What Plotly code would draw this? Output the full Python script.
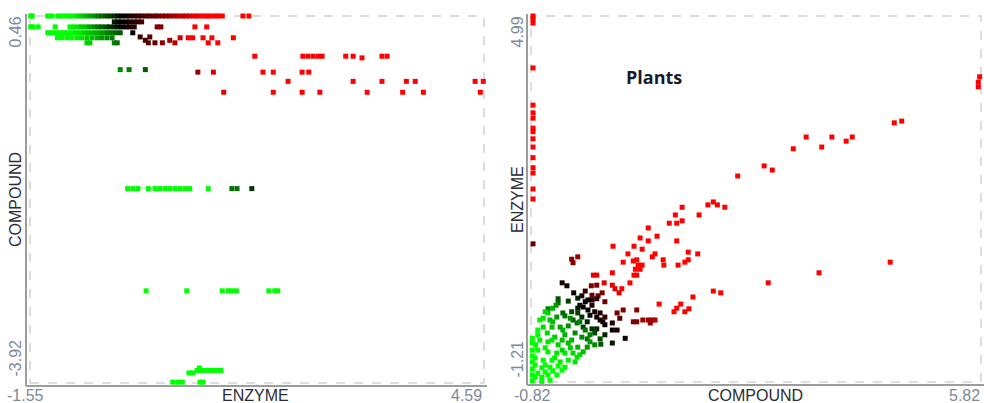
import plotly.graph_objects as go

# ---------------- LEFT PANEL DATA (x = ENZYME, y = COMPOUND) ----------------
row_a_compound = 0.46
row_a_enzyme = [-1.54, -1.52, -1.31, -1.25, -1.17, -1.12, -1.06, -1.01, -0.96, -0.90, -0.85, -0.79,
                -0.74, -0.68, -0.63, -0.58, -0.52, -0.47, -0.41, -0.36, -0.31, -0.25, -0.20, -0.14,
                -0.09, -0.04, 0.02, 0.07, 0.13, 0.18, 0.24, 0.29, 0.34, 0.40, 0.45, 0.51, 0.56, 0.61,
                0.67, 0.72, 0.78, 0.83, 0.88, 0.94, 0.99, 1.05, 1.33, 1.41]
row_a_score = [-1, -1, -1, -1, -1, -1, -1, -1, -0.96, -0.88, -0.8, -0.72, -0.64, -0.56, -0.48, -0.4,
               -0.32, -0.24, -0.16, -0.08, 0, 0.05, 0.1, 0.15, 0.2, 0.25, 0.3, 0.35, 0.4, 0.45, 0.5,
               0.55, 0.6, 0.65, 0.7, 0.75, 0.8, 0.85, 0.9, 0.95, 1, 1, 1, 1, 1, 1, 1, 1]

row_b_compound = 0.39
row_b_enzyme = [-0.41, -0.36, -0.31, -0.25, -0.20, -0.14, -0.09, -0.04]
row_b_score = [-0.1, -0.05, 0, 0.05, 0.1, 0.15, 0.2, 0.25]

row_c_compound = 0.33
row_c_enzyme = [-1.54, -1.51, -1.44, -1.21, -1.01, -0.96, -0.90, -0.85, -0.79, -0.74, -0.68, -0.63,
                -0.58, -0.52, -0.47, -0.41, -0.36, -0.31, -0.25, -0.20, -0.14, 0.17, 0.22, 0.68, 0.84]
row_c_score = [-1, -1, -1, -1, -1, -0.95, -0.9, -0.8, -0.75, -0.65, -0.55, -0.45, -0.38, -0.3, -0.2,
               -0.12, -0.05, 0, 0.05, 0.1, 0.15, 0.5, 0.5, 1, 1]

row_d_compound = 0.26
row_d_enzyme = [-1.31, -1.25, -1.20, -1.14, -1.09, -1.04, -0.98, -0.93, -0.87, -0.82, -0.77, -0.71,
                -0.66, -0.60, -0.55, -0.50, -0.44, -0.39, -0.33, -0.16]
row_d_score = [-1, -1, -1, -1, -1, -1, -1, -0.95, -0.9, -0.85, -0.8, -0.75, -0.7, -0.65, -0.6, -0.5,
               -0.45, -0.4, -0.35, 0.0]

row_e_compound = 0.20
row_e_enzyme = [-1.18, -1.12, -1.05, -0.98, -0.91, -0.85, -0.78, -0.71, -0.64, -0.58, -0.51, -0.44]
row_e_score = [-1, -1, -1, -1, -0.95, -0.9, -0.8, -0.75, -0.7, -0.6, -0.55, -0.5]

row_f_compound = 0.14
row_f_enzyme = [-0.78, -0.74, -0.41, -0.37]
row_f_score = [-0.85, -0.8, -0.5, -0.45]

top_cluster_enzyme = [-0.06, 0.01, 0.07, 0.05, 0.14, 0.24, 0.34, 0.41, 0.48, 0.59, 0.65, 0.79, 0.86,
                      0.91, 0.99, 1.20, -0.33, -0.21, 0.01, 0.72, 0.93, 1.07]
top_cluster_compound = [0.21, 0.17, 0.21, 0.14, 0.14, 0.14, 0.17, 0.14, 0.20, 0.20, 0.20, 0.20, 0.14,
                        0.20, 0.14, 0.20, -0.18, -0.18, -0.18, -0.21, -0.21, -0.45]
top_cluster_score = [0.25, 0.3, 0.35, 0.35, 0.4, 0.55, 0.65, 0.7, 0.8, 1, 1, 1, 1, 1, 1, 1,
                     -0.55, -0.5, -0.35, 0.6, 0.85, 0.9]

red_scatter_enzyme = [1.49, 2.14, 2.21, 2.28, 2.35, 2.40, 2.72, 2.82, 2.94, 3.21, 3.28,
                      1.60, 1.74, 2.13, 2.22,
                      1.94, 2.82, 3.21, 3.54, 3.66, 4.47, 4.58,
                      1.74, 2.13, 2.37, 3.01, 3.49, 3.77, 4.54]
red_scatter_compound = [-0.02, -0.02, -0.02, -0.02, -0.02, -0.02, -0.02, -0.02, -0.04, -0.02, -0.02,
                        -0.21, -0.21, -0.21, -0.21,
                        -0.32, -0.32, -0.32, -0.32, -0.32, -0.32, -0.32,
                        -0.45, -0.45, -0.45, -0.45, -0.45, -0.45, -0.45]

row_g_compound = -1.60
row_g_enzyme = [-0.23, -0.16, -0.09, 0.05, 0.14, 0.21, 0.28, 0.34, 0.41, 0.48, 0.55, 0.61, 0.86,
                1.18, 1.25, 1.45]
row_g_score = [-1, -1, -1, -1, -1, -1, -1, -1, -1, -1, -1, -1, -1, -0.45, -0.45, -0.2]

row_h_compound = -2.82
row_h_enzyme = [0.02, 0.57, 1.05, 1.13, 1.18, 1.24, 1.68, 1.76, 1.80]

bottom_enzyme = [0.71, 0.76, 0.82, 0.87, 0.93, 0.98, 1.03, 0.60, 0.65, 0.74, 0.38, 0.45, 0.51, 0.75, 0.79]
bottom_compound = [-3.77, -3.77, -3.77, -3.77, -3.77, -3.77, -3.77, -3.80, -3.80, -3.74,
                   -3.91, -3.91, -3.91, -3.91, -3.91]

# ---------------- RIGHT PANEL DATA (x = COMPOUND, y = ENZYME) ----------------
col_red_compound = [-0.79, -0.79, -0.79, -0.79, -0.79, -0.79, -0.79, -0.79, -0.79,
                    -0.79, -0.79, -0.79, -0.79, -0.79, -0.79, -0.79, -0.79]
col_red_enzyme = [4.99, 4.94, 4.87, 4.11, 3.48, 3.35, 3.26, 3.09, 3.03, 2.91, 2.77, 2.59, 2.42, 2.33,
                  2.06, 1.89, 1.13]
col_red_score = [1, 1, 1, 1, 1, 1, 1, 1, 1, 1, 1, 1, 1, 1, 1, 1, 0.4]

col_green_compound = [-0.80, -0.80, -0.80, -0.80, -0.80, -0.80, -0.80, -0.80]
col_green_enzyme = [-0.47, -0.55, -0.67, -0.77, -0.87, -0.99, -1.09, -1.19]

red_far_compound = [5.80, 5.78, 5.78, 4.65, 4.54, 3.92, 3.62, 3.83, 3.47, 3.24, 3.05, 2.62, 2.74, 2.23,
                    4.48, 3.43, 2.68, 1.41, 1.87, 1.79, 1.93, 2.04, 1.31, 1.66, 1.22, 1.33, 1.41, 0.91,
                    1.04, 1.33, 0.91, 0.79, 0.82, 1.50, 1.64, 1.01, 0.97, 1.13, 1.50, 1.45, 1.35, 1.14,
                    0.82, 0.79, 1.87, 1.98, 1.57, 1.07, 1.39, 1.33, 1.51, 1.29, 1.45]
red_far_enzyme = [3.96, 3.87, 3.79, 3.21, 3.18, 2.94, 2.94, 2.87, 2.77, 2.94, 2.74, 2.45, 2.38, 2.28,
                  0.82, 0.64, 0.47, 1.75, 1.84, 1.79, 1.79, 1.75, 1.62, 1.62, 1.48, 1.48, 1.52, 1.40,
                  1.26, 1.18, 1.18, 1.23, 1.04, 0.99, 0.96, 0.96, 0.91, 0.86, 0.86, 0.82, 0.77, 0.77,
                  0.77, 0.70, 0.33, 0.30, 0.23, 0.11, 0.11, 0.04, 0.03, -0.02, -0.02]

red_mid_compound = [0.39, 0.70, 0.61, 0.54, 0.74, 0.69, 0.76, 0.72, 0.70, 0.74, 0.38, 0.10, 0.15,
                    0.26, 0.64, 0.38, 0.42, 0.52, 0.48]
red_mid_enzyme = [1.09, 1.09, 0.96, 0.82, 0.86, 0.84, 0.77, 0.70, 0.60, 0.60, 0.64, 0.60, 0.60,
                  0.47, 0.47, 0.43, 0.37, 0.37, 0.30]
red_mid_score = [1, 1, 1, 1, 1, 1, 1, 1, 1, 1, 1, 0.9, 0.9, 0.9, 1, 0.9, 0.9, 1, 0.9]

dark_red_compound = [0.83, 0.91, 0.97, 1.01, 0.94, 0.69, 0.74, -0.22, -0.13, -0.20, 0.07, 0.23, 0.17,
                     0.08, 0.27, 0.45, 0.54, 0.49, 0.74, 0.15]
dark_red_enzyme = [-0.16, -0.16, -0.16, -0.16, -0.21, -0.19, -0.19, 0.87, 0.91, 0.81, 0.42, 0.30, 0.25,
                   0.26, 0.15, -0.04, 0.01, -0.13, 0.01, 0.43]
dark_red_score = [0.6, 0.6, 0.65, 0.7, 0.6, 0.5, 0.5, 0.55, 0.6, 0.5, 0.5, 0.5, 0.45, 0.4, 0.45, 0.45,
                  0.5, 0.35, 0.5, 0.5]

black_compound = [-0.36, -0.29, -0.19, -0.02, -0.07, 0.08, 0.15, -0.02, -0.05, 0.08, 0.02, 0.12, 0.20,
                  0.15, 0.27, 0.20, 0.24, 0.38, 0.27, 0.38, 0.45, 0.57, 0.38, 0.02, -0.10, 0.05, -0.13]
black_enzyme = [0.47, 0.42, 0.30, 0.33, 0.25, 0.18, 0.20, 0.15, 0.06, 0.09, 0.01, -0.02, -0.04, -0.11,
                -0.11, -0.16, -0.19, -0.21, -0.24, -0.33, -0.33, -0.47, -0.55, 0.18, 0.09, -0.08, 0.04]
black_score = [0.1, 0.05, 0.05, 0.2, 0.1, 0.15, 0.2, 0.05, 0.0, 0.1, 0.0, 0.1, 0.15, 0.05, 0.2, 0.05,
               0.1, 0.15, 0.0, 0.05, 0.1, 0.05, -0.1, 0.0, -0.05, -0.05, -0.1]

dark_green_compound = [-0.42, -0.27, -0.13, -0.42, -0.57, -0.35, -0.22, -0.13, -0.07, -0.20, -0.32, 0.01,
                       -0.05, 0.08, 0.15, 0.27, 0.12, 0.20, 0.01, 0.21]
dark_green_enzyme = [0.20, 0.16, 0.21, 0.13, 0.03, -0.04, -0.02, -0.04, -0.11, -0.16, -0.09, -0.19,
                     -0.28, -0.31, -0.31, -0.41, -0.38, -0.48, -0.48, -0.57]
dark_green_score = [-0.35, -0.25, -0.15, -0.4, -0.5, -0.4, -0.3, -0.25, -0.2, -0.35, -0.45, -0.15,
                    -0.25, -0.2, -0.15, -0.15, -0.3, -0.3, -0.45, -0.35]

green_compound = [-0.57, -0.54, -0.44, -0.64, -0.51, -0.39, -0.27, -0.14, -0.58, -0.47, -0.32, -0.17,
                  -0.07, 0.05, -0.69, -0.57, -0.42, -0.27, -0.13, 0.01, -0.10, -0.20, -0.32, -0.44,
                  -0.57, -0.72, -0.76, -0.64, -0.51, -0.39, -0.27, -0.14, -0.76, -0.66, -0.54, -0.42,
                  -0.72, -0.61, -0.50, -0.76, -0.66, -0.57, -0.64, -0.50, -0.72, -0.36, -0.24]
green_enzyme = [-0.04, -0.16, -0.11, -0.28, -0.28, -0.28, -0.26, -0.21, -0.38, -0.45, -0.41, -0.38,
                -0.45, -0.53, -0.50, -0.53, -0.58, -0.55, -0.62, -0.62, -0.75, -0.72, -0.72, -0.72,
                -0.70, -0.67, -0.80, -0.84, -0.84, -0.87, -0.84, -0.79, -0.92, -0.97, -0.96, -0.94,
                -1.06, -1.04, -1.02, -1.13, -1.13, -1.09, -0.13, 0.04, -0.33, -0.50, -0.63]
green_score = [-0.8, -0.75, -0.6, -0.85, -0.75, -0.65, -0.55, -0.45, -0.85, -0.8, -0.7, -0.55, -0.55,
               -0.6, -0.95, -0.9, -0.8, -0.75, -0.7, -0.6, -0.85, -0.85, -0.9, -0.9, -0.95, -1, -1,
               -1, -1, -0.95, -0.95, -0.9, -1, -1, -1, -1, -1, -1, -1, -1, -1, -1, -0.9, -0.7, -1,
               -0.75, -0.8]

green_extra_compound = [-0.69, -0.61, -0.45, -0.72, -0.51, -0.36, -0.22, -0.05, -0.17, -0.32, -0.44,
                        -0.54, -0.66, -0.35, -0.50, -0.24, -0.02, 0.05, -0.61, -0.47, -0.61, -0.36,
                        -0.75, -0.10, 0.12]
green_extra_enzyme = [-0.16, -0.02, 0.09, -0.41, -0.50, -0.67, -0.50, -0.70, -0.87, -0.96, -1.09,
                      -1.18, -1.20, -0.33, -0.19, -0.13, -0.33, -0.41, -0.63, -0.80, -0.92, -1.01,
                      -0.58, -0.19, -0.58]
green_extra_score = [-0.95, -0.85, -0.6, -1, -0.9, -0.85, -0.7, -0.75, -0.9, -0.95, -1, -1, -1, -0.7,
                     -0.75, -0.55, -0.45, -0.5, -0.95, -0.95, -1, -1, -1, -0.5, -0.55]

# ---------------- assemble ----------------
left_x, left_y, left_s = [], [], []
for comp, enz, sc in [(row_a_compound, row_a_enzyme, row_a_score),
                      (row_b_compound, row_b_enzyme, row_b_score),
                      (row_c_compound, row_c_enzyme, row_c_score),
                      (row_d_compound, row_d_enzyme, row_d_score),
                      (row_e_compound, row_e_enzyme, row_e_score),
                      (row_f_compound, row_f_enzyme, row_f_score),
                      (row_g_compound, row_g_enzyme, row_g_score)]:
    left_x += enz
    left_y += [comp] * len(enz)
    left_s += sc
left_x += top_cluster_enzyme; left_y += top_cluster_compound; left_s += top_cluster_score
left_x += red_scatter_enzyme; left_y += red_scatter_compound; left_s += [1] * len(red_scatter_enzyme)
left_x += row_h_enzyme; left_y += [row_h_compound] * len(row_h_enzyme); left_s += [-1] * len(row_h_enzyme)
left_x += bottom_enzyme; left_y += bottom_compound; left_s += [-1] * len(bottom_enzyme)

right_x, right_y, right_s = [], [], []
for cx, ey, sc in [(col_red_compound, col_red_enzyme, col_red_score),
                   (col_green_compound, col_green_enzyme, [-1] * len(col_green_enzyme)),
                   (red_far_compound, red_far_enzyme, [1] * len(red_far_enzyme)),
                   (red_mid_compound, red_mid_enzyme, red_mid_score),
                   (dark_red_compound, dark_red_enzyme, dark_red_score),
                   (black_compound, black_enzyme, black_score),
                   (dark_green_compound, dark_green_enzyme, dark_green_score),
                   (green_compound, green_enzyme, green_score),
                   (green_extra_compound, green_extra_enzyme, green_extra_score)]:
    right_x += cx
    right_y += ey
    right_s += sc

W, H = 984, 403
def px(x): return x / W
def py(y): return 1 - y / H

cscale = [[0, "#00ff00"], [0.5, "#000000"], [1, "#ff0000"]]
mk = dict(symbol="square", size=5, colorscale=cscale, cmin=-1, cmax=1, line=dict(width=0))

fig = go.Figure()
fig.add_trace(go.Scatter(x=left_x, y=left_y, mode="markers", xaxis="x", yaxis="y",
                         marker=dict(color=left_s, **mk), cliponaxis=False, showlegend=False,
                         hoverinfo="skip"))
fig.add_trace(go.Scatter(x=right_x, y=right_y, mode="markers", xaxis="x2", yaxis="y2",
                         marker=dict(color=right_s, **mk), cliponaxis=False, showlegend=False,
                         hoverinfo="skip"))

ax = dict(showgrid=False, zeroline=False, showticklabels=False, showline=False, ticks="", fixedrange=True)
fig.update_layout(
    width=W, height=H, margin=dict(l=0, r=0, t=0, b=0),
    paper_bgcolor="white", plot_bgcolor="white",
    xaxis=dict(domain=[px(30), px(484)], range=[-1.55, 4.59], anchor="y", **ax),
    yaxis=dict(domain=[py(383), py(16)], range=[-3.92, 0.46], anchor="x", **ax),
    xaxis2=dict(domain=[px(531), px(981)], range=[-0.82, 5.82], anchor="y2", **ax),
    yaxis2=dict(domain=[py(382), py(16)], range=[-1.21, 4.99], anchor="x2", **ax),
)

grid = dict(color="#d2d2d2", width=1.5, dash="dash")
axl = dict(color="#9c9c9c", width=2)
shapes = [
    dict(type="rect", xref="x domain", yref="y domain", x0=0, x1=1, y0=0, y1=1, line=grid, layer="below"),
    dict(type="rect", xref="x2 domain", yref="y2 domain", x0=0, x1=1, y0=0, y1=1, line=grid, layer="below"),
    dict(type="line", xref="paper", yref="paper", x0=px(26), x1=px(26), y0=py(14), y1=py(386), line=axl),
    dict(type="line", xref="paper", yref="paper", x0=px(26), x1=px(487), y0=py(386), y1=py(386), line=axl),
    dict(type="line", xref="paper", yref="paper", x0=px(527), x1=px(527), y0=py(14), y1=py(385), line=axl),
    dict(type="line", xref="paper", yref="paper", x0=px(527), x1=px(984), y0=py(385), y1=py(385), line=axl),
]
fig.update_layout(shapes=shapes)

tick_font = dict(family="Liberation Sans, Arial, sans-serif", size=16, color="#7d8996")
title_font = dict(family="Liberation Sans, Arial, sans-serif", size=16, color="#2b2b38")

def ann(text, x, y, xa, ya, font, angle=0):
    return dict(text=text, x=px(x), y=py(y), xref="paper", yref="paper", xanchor=xa, yanchor=ya,
                showarrow=False, font=font, textangle=angle)

annotations = [
    ann("0.46", 15, 15, "center", "top", tick_font, -90),
    ann("-3.92", 15, 379, "center", "bottom", tick_font, -90),
    ann("COMPOUND", 15, 200, "center", "middle", title_font, -90),
    ann("-1.55", 5, 395, "left", "middle", tick_font),
    ann("4.59", 484, 395, "right", "middle", tick_font),
    ann("ENZYME", 255, 395, "center", "middle", title_font),
    ann("4.99", 517, 15, "center", "top", tick_font, -90),
    ann("-1.21", 517, 380, "center", "bottom", tick_font, -90),
    ann("ENZYME", 517, 200, "center", "middle", title_font, -90),
    ann("-0.82", 512, 395, "left", "middle", tick_font),
    ann("5.82", 982, 395, "right", "middle", tick_font),
    ann("COMPOUND", 755, 395, "center", "middle", title_font),
    ann("<b>Plants</b>", 654, 77, "center", "middle",
        dict(family="Open Sans, sans-serif", size=18, color="#1a1a2a")),
]
fig.update_layout(annotations=annotations)

fig.write_html("out.html", config={"displayModeBar": False},
               post_script="document.body.style.margin='0px';document.body.style.overflow='hidden';")
